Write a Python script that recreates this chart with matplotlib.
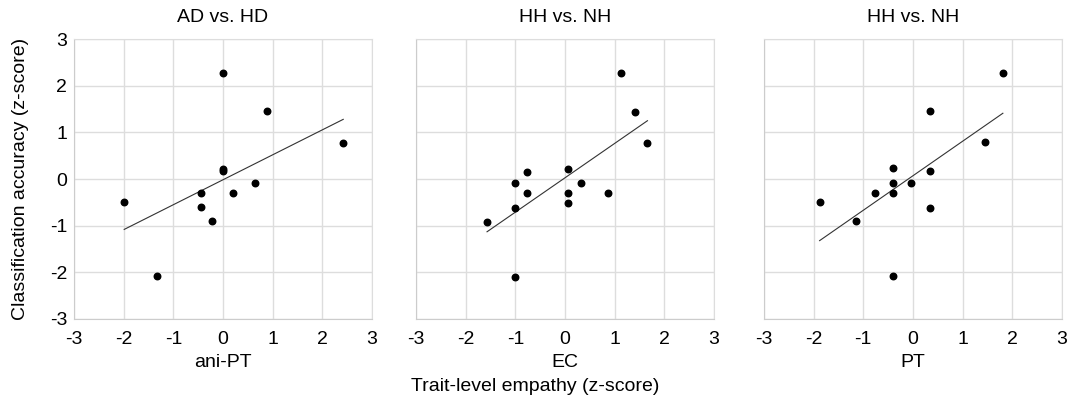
import matplotlib
matplotlib.use('Agg')
import matplotlib.pyplot as plt
import numpy as np

plt.rcParams['font.family'] = ['Liberation Sans', 'DejaVu Sans']

titles = ['AD vs. HD', 'HH vs. NH', 'HH vs. NH']
xlabels = ['ani-PT', 'EC', 'PT']

x_anipt = [0.0, 0.89, 2.42, 0.0, 0.0, 0.65, -0.44, 0.21, -0.44, -0.23, -1.99, -1.33]
y_anipt = [2.27, 1.46, 0.78, 0.22, 0.18, -0.09, -0.30, -0.30, -0.60, -0.90, -0.50, -2.08]

x_ec = [1.13, 1.41, 1.66, 0.06, -0.76, -1.01, 0.32, -0.76, 0.06, 0.86, 0.06, -1.01, -1.57, -1.01]
y_ec = [2.27, 1.44, 0.78, 0.22, 0.16, -0.09, -0.09, -0.30, -0.30, -0.30, -0.51, -0.61, -0.92, -2.10]

x_pt = [1.81, 0.34, 1.45, -0.40, 0.34, -0.40, -0.03, -0.76, -0.40, -1.88, 0.34, -1.14, -0.40]
y_pt = [2.27, 1.46, 0.79, 0.23, 0.18, -0.09, -0.09, -0.29, -0.29, -0.50, -0.61, -0.89, -2.07]

# trend line (slope, intercept)
slopes = [0.535, 0.737, 0.740]
intercepts = [-0.015, 0.027, 0.071]

xs = [x_anipt, x_ec, x_pt]
ys = [y_anipt, y_ec, y_pt]
ticks = [-3, -2, -1, 0, 1, 2, 3]

fs = 14
fig = plt.figure(figsize=(10.7, 4.01), dpi=100)
lefts = [0.0692, 0.3888, 0.714]
axes = []
for i in range(3):
    ax = fig.add_axes([lefts[i], 0.2045, 0.2785, 0.698])
    axes.append(ax)
    x = np.array(xs[i])
    y = np.array(ys[i])
    ax.scatter(x, y, s=22, color='black', zorder=3)
    lx = np.array([x.min(), x.max()])
    ax.plot(lx, slopes[i] * lx + intercepts[i], color='#333333', linewidth=0.8, zorder=2)
    ax.set_xlim(-3, 3)
    ax.set_ylim(-3, 3)
    ax.set_xticks(ticks)
    ax.set_yticks(ticks)
    ax.set_xticklabels([str(t) for t in ticks])
    if i == 0:
        ax.set_yticklabels([str(t) for t in ticks])
    else:
        ax.set_yticklabels([])
    ax.grid(True, color='#dddddd', linewidth=1)
    ax.set_axisbelow(True)
    for s in ax.spines.values():
        s.set_color('#dddddd')
    ax.spines['left'].set_color('#cccccc')
    ax.spines['bottom'].set_color('#cccccc')
    ax.tick_params(axis='x', length=0, labelsize=fs, pad=9)
    ax.tick_params(axis='y', length=0, labelsize=fs, pad=5)
    ax.set_title(titles[i], fontsize=fs, pad=12)
    ax.set_xlabel(xlabels[i], fontsize=fs, labelpad=4)

axes[0].set_ylabel('Classification accuracy (z-score)', fontsize=fs, labelpad=15)
fig.text(0.5, 0.037, 'Trait-level empathy (z-score)', ha='center', va='center', fontsize=fs)

fig.savefig('out.png', dpi=100)
